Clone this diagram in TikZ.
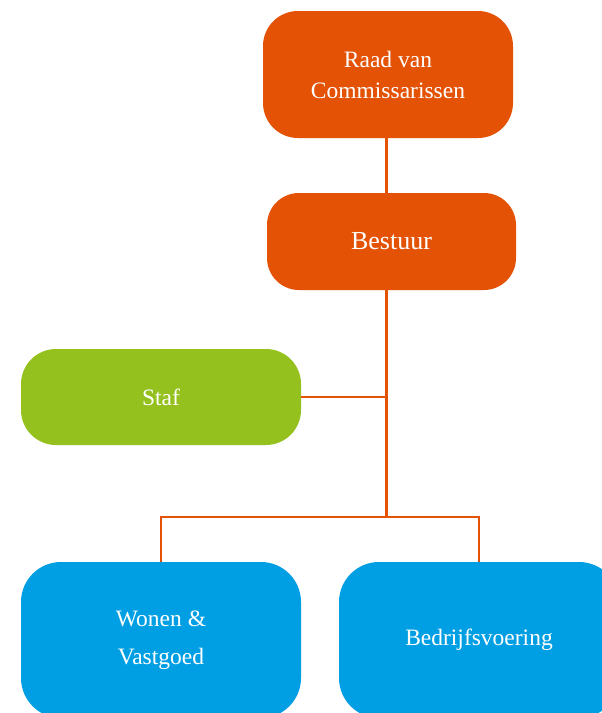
\documentclass[tikz,border=0pt]{standalone}
\usepackage{fontspec}
\setmainfont{Liberation Serif}
\definecolor{orgorange}{HTML}{E35205}
\definecolor{orggreen}{HTML}{95C11F}
\definecolor{orgblue}{HTML}{009FE3}
\begin{document}
\begin{tikzpicture}[x=1pt,y=-1pt,
  box/.style={rectangle, draw=none, text=white, align=center, inner sep=0pt,
    font=\fontsize{23.5}{31}\selectfont},
  link/.style={draw=orgorange, line width=2.5pt}]
\clip (0,0) rectangle (602,713);
\fill[white] (0,0) rectangle (602,713);
\node[box, fill=orgorange, minimum width=250pt, minimum height=127pt, rounded corners=35pt] (raad) at (388,74.5) {Raad van\\Commissarissen};
\node[box, fill=orgorange, minimum width=249pt, minimum height=97pt, rounded corners=32pt, font=\fontsize{26}{30}\selectfont] (bestuur) at (391.5,241.5) {Bestuur};
\node[box, fill=orggreen, minimum width=280pt, minimum height=96pt, rounded corners=35pt] (staf) at (161,397) {Staf};
\node[box, fill=orgblue, minimum width=280pt, minimum height=156pt, rounded corners=40pt] (wonen) at (161,640) {\raisebox{-3pt}{\parbox[c]{200pt}{\centering\fontsize{23.5}{38}\selectfont Wonen \&\\Vastgoed}}};
\node[box, fill=orgblue, minimum width=280pt, minimum height=156pt, rounded corners=40pt] (bedrijf) at (479,640) {Bedrijfsvoering};
\coordinate (jstaf) at (386.5,397);
\coordinate (jbot) at (386.5,517);
\draw[link] (raad.south -| jstaf) -- (bestuur.north -| jstaf);
\draw[link] (bestuur.south -| jstaf) -- (jbot);
\draw[link] (staf.east) -- (jstaf);
\draw[link] (wonen.north) |- (jbot) -| (bedrijf.north);
\end{tikzpicture}
\end{document}
